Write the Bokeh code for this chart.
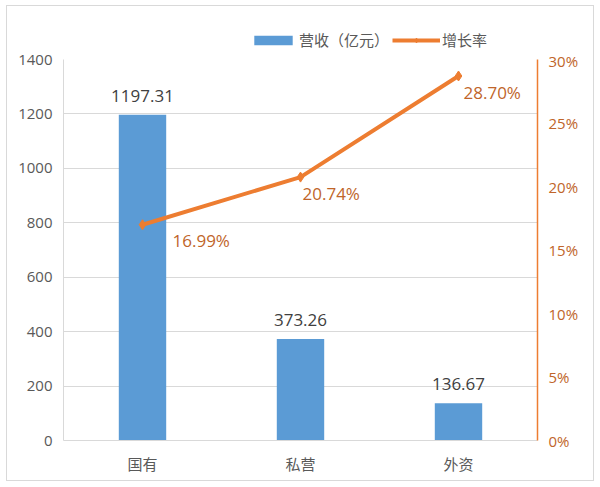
from bokeh.plotting import figure
from bokeh.layouts import column
from bokeh.models import (ColumnDataSource, FactorRange, Range1d, LinearAxis, FixedTicker,
                          PrintfTickFormatter, Legend, LegendItem, LabelSet)
from bokeh.core.properties import value
from bokeh.embed import file_html
from bokeh.resources import INLINE

# ---- data ----
categories = ["国有", "私营", "外资"]
revenue = [1197.31, 373.26, 136.67]
growth = [16.99, 20.74, 28.70]
revenue_labels = ["1197.31", "373.26", "136.67"]
growth_labels = ["16.99%", "20.74%", "28.70%"]
left_ticks = [0, 200, 400, 600, 800, 1000, 1200, 1400]
right_ticks = [0, 5, 10, 15, 20, 25, 30]
series_names = ["营收（亿元）", "增长率"]

# ---- style ----
growth_label_dx = [30, 2, 5]
BLUE = "#5B9BD5"
ORANGE = "#ED7D31"
LABEL_ORANGE = "#C0652A"
GREY = "#595959"
DARK = "#404040"
GRID = "#D9D9D9"
CJK = "Noto Sans CJK SC"
NUM = "Open Sans"

src = ColumnDataSource(dict(cat=categories, rev=revenue, growth=growth,
                            rev_label=revenue_labels, growth_label=growth_labels,
                            dx=growth_label_dx))

# ---- main chart ----
p = figure(x_range=FactorRange(*categories), y_range=Range1d(0, 1400),
           frame_width=474, frame_height=381,
           min_border_left=56, min_border_right=56, min_border_top=9, min_border_bottom=40,
           output_backend="svg", toolbar_location=None)
p.outline_line_color = None
p.background_fill_color = "white"
p.border_fill_color = "white"

p.extra_y_ranges = {"pct": Range1d(0, 30)}

p.vbar(x="cat", top="rev", width=0.30, source=src, fill_color=BLUE, line_color=None)
p.line(x="cat", y="growth", source=src, y_range_name="pct", line_width=4, line_color=ORANGE)
p.scatter(x="cat", y="growth", source=src, y_range_name="pct", marker="diamond",
          size=10, fill_color=ORANGE, line_color=ORANGE)

p.yaxis.ticker = FixedTicker(ticks=left_ticks)
for ax in [p.yaxis[0], p.xaxis[0]]:
    ax.major_tick_line_color = None
    ax.minor_tick_line_color = None
    ax.major_tick_out = 0
    ax.major_tick_in = 0
    ax.axis_line_color = GRID
    ax.major_label_text_color = GREY
    ax.major_label_text_font_size = "15px"
p.yaxis.major_label_text_font = NUM
p.yaxis.major_label_standoff = 11
p.xaxis.major_label_text_font = CJK
p.xaxis.major_label_standoff = 12

raxis = LinearAxis(y_range_name="pct", ticker=FixedTicker(ticks=right_ticks),
                   formatter=PrintfTickFormatter(format="%d%%"))
raxis.major_tick_line_color = None
raxis.minor_tick_line_color = None
raxis.major_tick_out = 0
raxis.major_tick_in = 0
raxis.axis_line_color = ORANGE
raxis.axis_line_width = 1.5
raxis.major_label_text_color = LABEL_ORANGE
raxis.major_label_text_font = NUM
raxis.major_label_text_font_size = "15px"
raxis.major_label_standoff = 11
p.add_layout(raxis, "right")

p.xgrid.grid_line_color = None
p.ygrid.grid_line_color = GRID
p.ygrid.grid_line_width = 1

bar_labels = LabelSet(x="cat", y="rev", text="rev_label", source=src, y_offset=13,
                      text_align="center", text_baseline="bottom",
                      text_font=value(NUM), text_font_size=value("17px"), text_color=DARK)
p.add_layout(bar_labels)
g_labels = LabelSet(x="cat", y="growth", text="growth_label", source=src, y_range_name="pct",
                    x_offset="dx", y_offset=-16, text_align="left", text_baseline="middle",
                    text_font=value(NUM), text_font_size=value("17px"), text_color=LABEL_ORANGE)
p.add_layout(g_labels)

# ---- legend strip (hidden copies of the series supply the legend glyphs) ----
lf = figure(width=586, height=44, x_range=FactorRange(*categories), y_range=Range1d(0, 1400),
            x_axis_type=None, y_axis_type=None, min_border=0,
            output_backend="svg", toolbar_location=None)
lf.outline_line_color = None
lf.grid.visible = False
lf.background_fill_color = "white"
lf.border_fill_color = "white"
lb = lf.vbar(x="cat", top="rev", width=0.3, source=src, fill_color=BLUE, line_color=None,
             visible=False)
ll = lf.line(x="cat", y="growth", source=src, line_width=4, line_color=ORANGE, visible=False)
lp = lf.scatter(x="cat", y="growth", source=src, marker="diamond", size=9,
                fill_color=ORANGE, line_color=ORANGE, visible=False)
legend = Legend(items=[LegendItem(label=series_names[0], renderers=[lb]),
                       LegendItem(label=series_names[1], renderers=[ll, lp])],
                orientation="horizontal", location=(186, 0),
                glyph_width=48, glyph_height=12, label_height=14,
                label_text_font=CJK, label_text_font_size="15px", label_text_color=GREY,
                label_standoff=2, spacing=3, padding=0, margin=0,
                border_line_color=None, background_fill_alpha=0)
lf.add_layout(legend, "center")

layout = column(lf, p, spacing=0)
layout.styles = {"border": "1px solid #D9D9D9", "margin": "5px 0 0 6px", "background": "white"}

open("out.html", "w").write(file_html(layout, INLINE))
